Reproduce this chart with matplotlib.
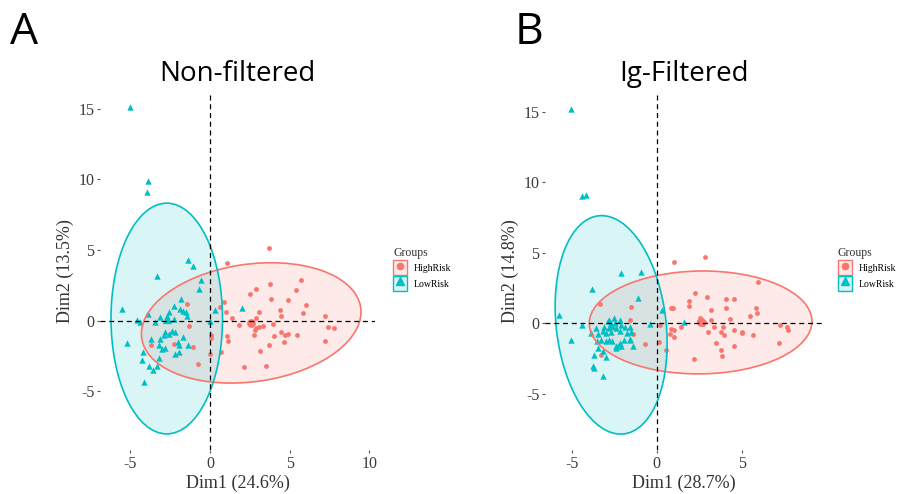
import matplotlib
matplotlib.use("Agg")
import matplotlib.pyplot as plt
from matplotlib.patches import Ellipse, Patch
from matplotlib.lines import Line2D
from matplotlib.legend_handler import HandlerTuple

# ---------------- data ----------------
groups = ["HighRisk", "LowRisk"]
panel_letters = ["A", "B"]
panel_titles = ["Non-filtered", "Ig-Filtered"]
x_labels = ["Dim1 (24.6%)", "Dim1 (28.7%)"]
y_labels = ["Dim2 (13.5%)", "Dim2 (14.8%)"]
x_ticks_A = [-5, 0, 5, 10]
x_ticks_B = [-5, 0, 5]
y_ticks = [-5, 0, 5, 10, 15]

A_low_x = [-5.01, -3.89, -3.93, -1.35, -1.08, -3.31, -0.56, -0.68, -5.55, -1.80, -2.28, -1.86, -1.66,
           -1.49, -1.41, -2.59, -2.69, -3.11, -3.87, -4.60, -4.39, -3.42, -2.24, -2.69, 0.31, 2.03, 0.0,
           -2.80, -2.59, -2.38, -2.17, -2.90, -3.11, -3.69, -1.70, -2.03, -5.22, -3.21, -3.00, -2.80,
           -1.97, -1.95, -1.35, -4.20, -2.17, -3.21, -4.27, -3.83, -3.58, -3.35, -4.14]
A_low_y = [15.13, 9.88, 9.10, 4.30, 3.85, 3.14, 2.88, 2.25, 0.83, 1.54, 1.06, 0.83, 0.71, 0.59, 0.31,
           0.59, 0.31, 0.24, 0.47, 0.07, -0.12, -0.12, 0.12, 0.12, 0.78, 0.92, -0.05, -0.83, -0.95,
           -0.71, -0.83, -1.06, -1.30, -1.30, -1.18, -1.54, -1.61, -1.73, -2.01, -1.96, -1.77, -2.20,
           -1.77, -2.20, -2.36, -2.65, -2.79, -3.19, -3.48, -3.19, -4.37]
A_high_x = [3.71, 1.10, 2.53, 2.92, 3.79, 5.40, 5.69, 4.87, 3.83, 6.05, 0.89, 0.62, 0.99, 1.41, 1.82,
            2.84, 2.90, 3.06, 2.75, 3.35, 3.11, 2.86, 3.93, 4.39, 4.43, 4.04, 4.47, 4.68, 4.87, 4.62,
            5.49, 5.84, 7.25, 7.41, 7.76, 7.20, 3.69, 3.17, 2.13, 3.50, 1.04, 1.14, 0.72, 0.0, 0.06,
            0.06, -0.77, -1.08, -1.30, -1.45, -2.28, -3.73]
A_high_y = [5.15, 4.09, 1.87, 2.25, 2.62, 2.17, 2.84, 1.42, 1.56, 1.11, 1.30, 0.95, 0.59, 0.21, -0.35,
            -0.64, -0.50, -0.43, -1.02, -0.38, 0.59, 0.17, -0.24, 0.73, 0.31, -1.11, -0.83, -1.06,
            -0.95, -1.49, -1.06, 0.50, 0.35, -0.43, -0.50, -1.47, -1.77, -2.13, -3.31, -3.19, -1.13,
            -1.44, -2.25, -2.36, -1.06, -1.25, -3.10, -1.89, -0.40, 1.18, -1.65, -1.73]

B_low_x = [-5.06, -4.40, -4.13, -2.10, -0.93, -3.83, -1.13, -5.75, -4.40, -5.06, 0.30, -0.40, 1.59,
           -2.88, -2.78, -2.54, -2.18, -2.74, -2.48, -2.08, -3.08, -2.78, -2.38, -1.88, -1.59, -3.57,
           -3.87, -3.47, -3.17, -2.98, -2.68, -2.18, -1.75, -1.49, -1.55, -1.94, -2.18, -2.38, -2.28,
           -2.08, -2.42, -2.62, -2.78, -2.98, -3.27, -3.53, -3.47, -3.67, -3.13, -2.98, -3.77, -3.67,
           -3.17, -1.39, -1.59]
B_low_y = [15.19, 9.00, 9.12, 3.53, 3.65, 2.40, 1.81, 0.59, -0.12, -1.22, 0.94, -0.07, 0.07, 0.12,
           0.24, 0.35, 0.24, -0.12, 0.0, -0.12, -0.28, -0.35, -0.35, -0.28, -0.28, -0.35, -0.71,
           -0.75, -0.59, -0.71, -0.66, -0.59, -0.71, -0.66, -1.13, -1.18, -1.41, -1.60, -1.65, -1.65,
           -1.77, -1.30, -1.18, -1.30, -1.18, -1.30, -1.77, -2.24, -2.00, -2.40, -3.02, -3.18, -3.77,
           -1.65, -1.18]
B_high_x = [2.82, 1.03, 5.95, 2.28, 2.98, 1.90, 1.90, 4.07, 4.52, 4.07, 3.21, 0.95, 0.83, 5.81, 5.91,
            5.50, 4.33, 3.17, 2.54, 2.64, 2.78, 2.48, 2.72, 3.37, 3.87, 3.77, 3.97, 3.04, 4.56, 5.04,
            5.04, 5.65, 7.24, 7.64, 7.70, 7.20, 4.56, 3.47, 3.79, 3.81, 2.22, 1.43, 0.99, 0.83, 0.79,
            0.99, 0.20, 0.16, 0.54, -3.31, -1.49, -1.59, -1.39, -0.71, -3.25]
B_high_y = [4.71, 4.33, 2.90, 2.17, 1.86, 1.58, 1.22, 1.70, 1.70, 1.04, 0.92, 1.08, 1.04, 1.06, 0.75,
            0.52, 0.33, 0.24, 0.40, 0.24, 0.05, 0.16, -0.05, -0.24, -0.28, -0.64, -0.82, -0.64, -0.52,
            -0.64, -0.71, -0.82, -0.14, -0.24, -0.52, -1.41, -1.60, -1.41, -1.93, -2.36, -2.54, -0.24,
            -0.47, -0.42, -0.78, -1.01, -0.12, -1.34, -1.88, 1.37, 1.13, 0.24, -0.75, -1.51, -2.26]

# group means and ellipse shapes: (cx, cy, width, height, angle)
A_high_ell = [2.59, -0.17, 13.92, 8.31, 10.0]
A_low_ell = [-2.71, 0.14, 7.00, 16.36, 0.0]
B_high_ell = [2.58, 0.05, 13.10, 7.30, 1.0]
B_low_ell = [-2.68, -0.12, 6.47, 15.55, 5.0]

# ---------------- style ----------------
C_HIGH = "#F8766D"
C_LOW = "#00BFC4"
SERIF = ["Liberation Serif", "DejaVu Serif"]
SANS = ["Open Sans", "DejaVu Sans"]

fig = plt.figure(figsize=(9.0, 4.94), dpi=100)

panels = [
    dict(rect=[100 / 900, 1 - 450 / 494, 275 / 900, 357 / 494], xlim=(-6.90, 10.36), ylim=(-9.18, 16.13),
         xt=x_ticks_A, lx=A_low_x, ly=A_low_y, hx=A_high_x, hy=A_high_y, eh=A_high_ell, el=A_low_ell,
         leg=(393 / 900, 1 - 247 / 494), letter_x=10 / 900),
    dict(rect=[545 / 900, 1 - 450 / 494, 277 / 900, 357 / 494], xlim=(-6.57, 9.72), ylim=(-9.00, 16.33),
         xt=x_ticks_B, lx=B_low_x, ly=B_low_y, hx=B_high_x, hy=B_high_y, eh=B_high_ell, el=B_low_ell,
         leg=(838 / 900, 1 - 247 / 494), letter_x=515 / 900),
]

for i, p in enumerate(panels):
    ax = fig.add_axes(p["rect"])
    ax.set_xlim(*p["xlim"])
    ax.set_ylim(*p["ylim"])
    for s in ax.spines.values():
        s.set_visible(False)
    ax.set_facecolor("white")

    # points
    ax.scatter(p["hx"], p["hy"], s=12, marker="o", color=C_HIGH, linewidths=0, zorder=3)
    ax.scatter(p["lx"], p["ly"], s=21, marker="^", color=C_LOW, linewidths=0, zorder=3)
    # group mean points
    ax.scatter([p["eh"][0]], [p["eh"][1]], s=40, marker="o", color=C_HIGH, linewidths=0, zorder=3)
    ax.scatter([p["el"][0]], [p["el"][1]], s=45, marker="^", color=C_LOW, linewidths=0, zorder=3)

    # ellipses
    for e, c in ((p["eh"], C_HIGH), (p["el"], C_LOW)):
        ax.add_patch(Ellipse((e[0], e[1]), e[2], e[3], angle=e[4], facecolor=c, alpha=0.15,
                             edgecolor="none", zorder=2))
        ax.add_patch(Ellipse((e[0], e[1]), e[2], e[3], angle=e[4], facecolor="none",
                             edgecolor=c, linewidth=1.2, zorder=4))

    # reference lines
    ax.axhline(0, color="black", linestyle=(0, (4, 3)), linewidth=0.9, zorder=5)
    ax.axvline(0, color="black", linestyle=(0, (4, 3)), linewidth=0.9, zorder=5)

    ax.set_xticks(p["xt"])
    ax.set_yticks(y_ticks)
    ax.set_xticklabels([str(v) for v in p["xt"]], family=SERIF, fontsize=11.5, color="#3a3a3a")
    ax.set_yticklabels([str(v) for v in y_ticks], family=SERIF, fontsize=11.5, color="#3a3a3a")
    ax.tick_params(length=2.5, width=0.8, color="#555555", pad=1.5)

    ax.set_xlabel(x_labels[i], family=SERIF, fontsize=13, color="#333333", labelpad=2)
    ax.set_ylabel(y_labels[i], family=SERIF, fontsize=13, color="#333333", labelpad=3)

    ax.set_title(panel_titles[i], family=SANS, fontsize=20, pad=9, color="black")
    fig.text(p["letter_x"], 1 - 44 / 494, panel_letters[i], family=SANS, fontsize=32,
             ha="left", va="baseline", color="black")

    # legend
    h_high = (Patch(facecolor="#FDEAE8", edgecolor=C_HIGH, linewidth=1.0),
              Line2D([], [], marker="o", linestyle="none", color=C_HIGH, markersize=4.5))
    h_low = (Patch(facecolor="#D9F5F6", edgecolor=C_LOW, linewidth=1.0),
             Line2D([], [], marker="^", linestyle="none", color=C_LOW, markersize=6))
    leg = ax.legend([h_high, h_low], groups, handler_map={tuple: HandlerTuple(ndivide=1, pad=0)},
                    loc="upper left", bbox_to_anchor=p["leg"], bbox_transform=fig.transFigure,
                    frameon=False, title="Groups", prop={"family": SERIF, "size": 7},
                    handlelength=1.4, handleheight=1.9, handletextpad=0.7, labelspacing=0.15,
                    borderaxespad=0, borderpad=0)
    leg.get_title().set_fontfamily(SERIF)
    leg.get_title().set_fontsize(8.5)
    leg.get_title().set_color("#333333")
    leg._legend_box.align = "left"

fig.savefig("out.png", dpi=100)
